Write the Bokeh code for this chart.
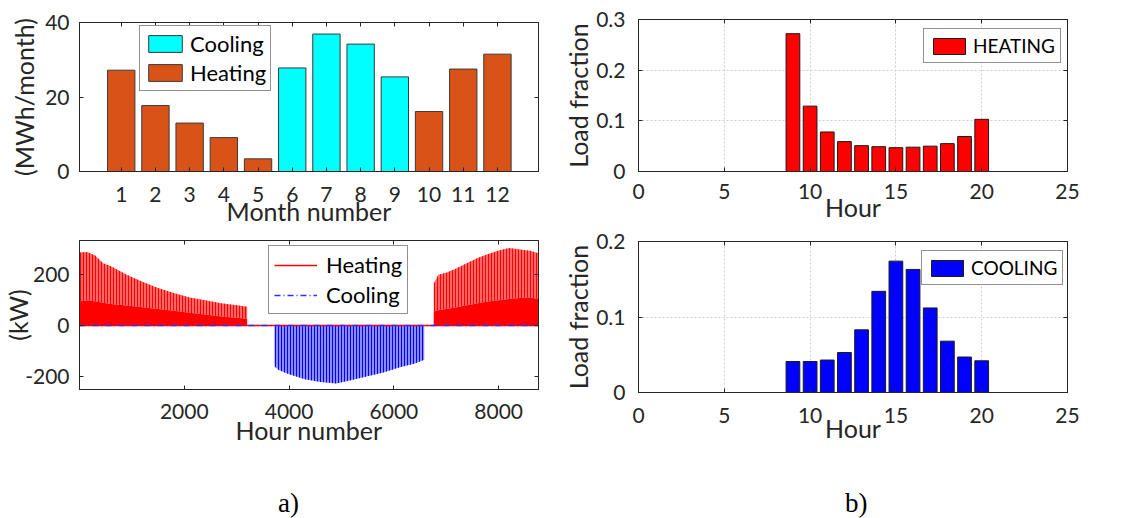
from bokeh.plotting import figure
from bokeh.models import (Range1d, FixedTicker, LinearAxis, Legend, LegendItem,
                          CustomJSTickFormatter, Div)
from bokeh.layouts import column, row
from bokeh.embed import file_html
from bokeh.resources import INLINE

# ---------------- data ----------------
months = [1, 2, 3, 4, 5, 6, 7, 8, 9, 10, 11, 12]
monthly_heating = [27.2, 17.7, 13.0, 9.1, 3.4, 0, 0, 0, 0, 16.1, 27.5, 31.5]
monthly_cooling = [0, 0, 0, 0, 0, 27.8, 36.9, 34.2, 25.4, 0, 0, 0]

# hourly load envelope (kW)
year_hours = [0, 8760]
year_zero = [0, 0]
heat1_hours = [0, 150, 300, 450, 600, 900, 1200, 1500, 1800, 2100, 2400, 2700, 3000, 3200]
heat1_peak = [288, 290, 276, 245, 234, 200, 172, 148, 128, 110, 100, 88, 80, 74]
heat1_base = [96, 99, 96, 90, 85, 79, 72, 65, 58, 50, 43, 36, 31, 27]
heat1_zero = [0, 0, 0, 0, 0, 0, 0, 0, 0, 0, 0, 0, 0, 0]
heat2_hours = [6760, 6850, 7000, 7200, 7400, 7600, 7800, 8000, 8200, 8400, 8600, 8760]
heat2_peak = [165, 200, 208, 226, 246, 266, 282, 296, 305, 300, 295, 285]
heat2_base = [55, 60, 65, 72, 80, 88, 95, 100, 105, 108, 110, 105]
heat2_zero = [0, 0, 0, 0, 0, 0, 0, 0, 0, 0, 0, 0]
cool_hours = [3720, 3800, 4000, 4300, 4600, 4900, 5200, 5500, 5800, 6100, 6400, 6580]
cool_peak = [-160, -175, -192, -212, -222, -228, -215, -200, -185, -165, -150, -135]
cool_zero = [0, 0, 0, 0, 0, 0, 0, 0, 0, 0, 0, 0]

hours = [1, 2, 3, 4, 5, 6, 7, 8, 9, 10, 11, 12, 13, 14, 15, 16, 17, 18, 19, 20, 21, 22, 23, 24]
heating_fraction = [0, 0, 0, 0, 0, 0, 0, 0, 0.272, 0.129, 0.078, 0.059, 0.051, 0.049,
                    0.047, 0.048, 0.050, 0.055, 0.069, 0.103, 0, 0, 0, 0]
cooling_fraction = [0, 0, 0, 0, 0, 0, 0, 0, 0.041, 0.041, 0.043, 0.053, 0.083, 0.134,
                    0.174, 0.163, 0.112, 0.068, 0.047, 0.042, 0, 0, 0, 0]

month_ticks = months
tl_yticks = [0, 20, 40]
bl_xticks = [2000, 4000, 6000, 8000]
bl_yticks = [-200, 0, 200]
bl_ylabels = {-200: "-200"}
hour_ticks = [0, 5, 10, 15, 20, 25]
tr_yticks = [0, 0.1, 0.2, 0.3]
br_yticks = [0, 0.1, 0.2]
frac_ylabels = {0: "0"}

FONT = "Lato"
AX = "#262626"


def make_fig(w, h, ml, mr, mt, mb, xr, yr):
    p = figure(width=w, height=h, output_backend="svg", toolbar_location=None,
               x_range=Range1d(*xr), y_range=Range1d(*yr),
               min_border_left=ml, min_border_right=mr,
               min_border_top=mt, min_border_bottom=mb)
    p.outline_line_color = AX
    p.outline_line_width = 1
    p.background_fill_color = "white"
    p.border_fill_color = "white"
    return p


def style(p, xticks, yticks, xlabel, ylabel, x_std, x_lstd, y_std, y_lstd,
          grid=False, yover=None):
    for ax in [p.xaxis[0], p.yaxis[0]]:
        ax.axis_line_color = AX
        ax.major_tick_line_color = AX
        ax.major_tick_in = 4
        ax.major_tick_out = 0
        ax.minor_tick_line_color = None
        ax.major_label_text_font = FONT
        ax.major_label_text_font_size = "21px"
        ax.major_label_text_color = AX
        ax.axis_label_text_font = FONT
        ax.axis_label_text_font_size = "25px"
        ax.axis_label_text_font_style = "normal"
        ax.axis_label_text_color = AX
    p.xaxis[0].ticker = FixedTicker(ticks=xticks)
    p.yaxis[0].ticker = FixedTicker(ticks=yticks)
    p.xaxis[0].axis_label = xlabel
    p.yaxis[0].axis_label = ylabel
    p.xaxis[0].major_label_standoff = x_std
    p.xaxis[0].axis_label_standoff = x_lstd
    p.yaxis[0].major_label_standoff = y_std
    p.yaxis[0].axis_label_standoff = y_lstd
    if yover:
        p.yaxis[0].major_label_overrides = yover
    top = LinearAxis(ticker=FixedTicker(ticks=xticks),
                     formatter=CustomJSTickFormatter(code="return ''"),
                     major_label_text_font_size="0px", major_label_standoff=0,
                     major_tick_in=4, major_tick_out=0, minor_tick_line_color=None,
                     axis_line_color=AX, major_tick_line_color=AX)
    right = LinearAxis(ticker=FixedTicker(ticks=yticks),
                       formatter=CustomJSTickFormatter(code="return ''"),
                       major_label_text_font_size="0px", major_label_standoff=0,
                       major_tick_in=4, major_tick_out=0, minor_tick_line_color=None,
                       axis_line_color=AX, major_tick_line_color=AX)
    p.add_layout(top, "above")
    p.add_layout(right, "right")
    if grid:
        p.xgrid.ticker = FixedTicker(ticks=xticks)
        p.ygrid.ticker = FixedTicker(ticks=yticks)
        p.grid.grid_line_color = "#cfcfcf"
        p.grid.grid_line_dash = "2 2"
        p.grid.grid_line_width = 1
    else:
        p.grid.visible = False


def legend(p, items, loc, gw, gh, fs, lstd, pad, sp):
    lg = Legend(items=items, location=loc, glyph_width=gw, glyph_height=gh,
                label_text_font=FONT, label_text_font_size=fs, label_text_color="black",
                label_standoff=lstd, padding=pad, spacing=sp, margin=0,
                border_line_color=AX, border_line_width=1,
                background_fill_color="white", background_fill_alpha=1)
    p.add_layout(lg)


# ---------------- top-left: monthly energy ----------------
tl = make_fig(560, 230, 79, 22, 22, 59, (-0.22, 13.2), (0, 40))
r_heat_m = tl.vbar(x=months, top=monthly_heating, width=0.8, fill_color="#D95319",
                   line_color="#3a3a3a", line_width=1)
r_cool_m = tl.vbar(x=months, top=monthly_cooling, width=0.8, fill_color="#00FFFF",
                   line_color="#3a3a3a", line_width=1)
style(tl, month_ticks, tl_yticks, "Month number", "(MWh/month)", 15, -9, 10, 3)
legend(tl, [LegendItem(label="Cooling", renderers=[r_cool_m]),
            LegendItem(label="Heating", renderers=[r_heat_m])],
       (60, 80), 42, 21, "22px", 4, 4, 2)

# ---------------- bottom-left: hourly load ----------------
bl = make_fig(560, 225, 79, 22, 10, 66, (0, 8760), (-252, 335))
for hx, pk, bs, zr in [(heat1_hours, heat1_peak, heat1_base, heat1_zero),
                       (heat2_hours, heat2_peak, heat2_base, heat2_zero)]:
    bl.varea(x=hx, y1=bs, y2=pk, fill_color="#ff0000", fill_alpha=0.6,
             hatch_pattern="|", hatch_color="#ff0000", hatch_scale=3, hatch_weight=1)
    bl.varea(x=hx, y1=zr, y2=bs, fill_color="#ff0000", fill_alpha=1)
bl.varea(x=cool_hours, y1=cool_zero, y2=cool_peak, fill_color="#0000ff", fill_alpha=0.45,
         hatch_pattern="|", hatch_color="#0000ff", hatch_scale=3, hatch_weight=1)
r_heat_h = bl.line(x=year_hours, y=year_zero, line_color="#ff0000", line_width=1.6)
r_cool_h = bl.line(x=year_hours, y=year_zero, line_color="#3030ff", line_width=1.6,
                   line_dash="6 3 1 3")
style(bl, bl_xticks, bl_yticks, "Hour number", "(kW)", 14, -7, 10, -11, yover=bl_ylabels)
legend(bl, [LegendItem(label="Heating", renderers=[r_heat_h]),
            LegendItem(label="Cooling", renderers=[r_cool_h])],
       (189, 75), 43, 20, "22px", 9, 5, 3)

# ---------------- top-right: heating hourly fraction ----------------
tr = make_fig(555, 226, 77, 48, 19, 55, (0, 25), (0, 0.3))
r_hf = tr.vbar(x=hours, top=heating_fraction, width=0.8, fill_color="#ff0000",
               line_color="#1a1a1a", line_width=1)
style(tr, hour_ticks, tr_yticks, "Hour", "Load fraction", 12, -10, 13, 0,
      grid=True, yover=frac_ylabels)
legend(tr, [LegendItem(label="HEATING", renderers=[r_hf])], (285, 108), 40, 20, "19px", 4, 5, 2)

# ---------------- bottom-right: cooling hourly fraction ----------------
br = make_fig(555, 229, 77, 48, 15, 63, (0, 25), (0, 0.2))
r_cf = br.vbar(x=hours, top=cooling_fraction, width=0.8, fill_color="#0000ff",
               line_color="#1a1a1a", line_width=1)
style(br, hour_ticks, br_yticks, "Hour", "Load fraction", 15, -13, 13, 0,
      grid=True, yover=frac_ylabels)
legend(br, [LegendItem(label="COOLING", renderers=[r_cf])], (283, 107), 40, 20, "19px", 4, 5, 2)

# ---------------- panel captions ----------------
cap_style = {"font-family": "Liberation Serif", "font-size": "27px", "line-height": "27px",
             "color": "#000000", "box-sizing": "border-box", "overflow": "hidden"}
div_a = Div(text="a)", width=560, height=63, margin=0,
            styles=dict(cap_style, **{"padding-left": "278px", "padding-top": "35px"}))
div_b = Div(text="b)", width=555, height=63, margin=0,
            styles=dict(cap_style, **{"padding-left": "285px", "padding-top": "35px"}))

layout = row(column(tl, bl, div_a), column(tr, br, div_b))
open("out.html", "w").write(file_html(layout, INLINE))
